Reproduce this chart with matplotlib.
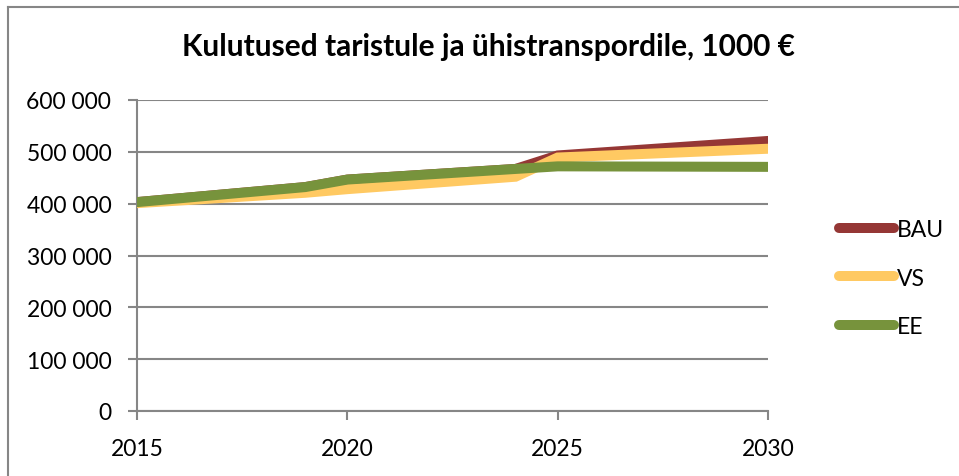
import matplotlib
matplotlib.use("Agg")
import matplotlib.pyplot as plt
from matplotlib.lines import Line2D

years = [2015, 2019, 2020, 2024, 2025, 2030]
bau = [403000, 432000, 446500, 467000, 493000, 521000]
vs = [401000, 421000, 428000, 452000, 489000, 506000]
ee = [403000, 432000, 446500, 467000, 472000, 471000]
series_names = ["BAU", "VS", "EE"]
colors = ["#953735", "#FFC962", "#77933C"]
yticks = [0, 100000, 200000, 300000, 400000, 500000, 600000]
ytick_labels = ["0", "100 000", "200 000", "300 000", "400 000", "500 000", "600 000"]
xticks = [2015, 2020, 2025, 2030]
title = "Kulutused taristule ja ühistranspordile, 1000 €"

plt.rcParams['font.family'] = ['Lato', 'DejaVu Sans']
W, H = 959, 477
fig = plt.figure(figsize=(W / 100, H / 100), dpi=100)
ax = fig.add_axes([137 / W, 1 - 412 / H, (768 - 137) / W, (412 - 101) / H])

grid_c = "#868686"
for name, vals, c in zip(series_names, [bau, vs, ee], colors):
    ax.plot(years, vals, color=c, lw=7.2, solid_capstyle="round",
            solid_joinstyle="miter", label=name, zorder=3)

ax.set_xlim(2015, 2030)
ax.set_ylim(0, 600000)
ax.set_yticks(yticks)
ax.set_yticklabels(ytick_labels)
ax.set_xticks(xticks)
ax.set_xticklabels([str(x) for x in xticks])
ax.tick_params(axis="both", labelsize=16.5, colors=grid_c, labelcolor="black",
               length=6.5, width=1.5, direction="out")
ax.tick_params(axis="y", pad=12)
ax.tick_params(axis="x", pad=13)
ax.grid(axis="y", color=grid_c, lw=1.5, zorder=0)
for s in ["top", "right"]:
    ax.spines[s].set_visible(False)
for s in ["left", "bottom"]:
    ax.spines[s].set_color(grid_c)
    ax.spines[s].set_linewidth(1.5)
ax.set_axisbelow(True)

fig.text(488 / W, 1 - 47 / H, title, ha="center", va="center",
         fontsize=21.5, fontweight="bold")

handles = [Line2D([0], [0], color=c, lw=7.2, solid_capstyle="round") for c in colors]
fig.legend(handles, series_names, loc="center left",
           bbox_to_anchor=(828 / W, 1 - 279 / H), frameon=False,
           fontsize=16.5, handlelength=2.4, handletextpad=0.12,
           labelspacing=1.2, borderpad=0)

# outer frame (top and left edges)
fig.add_artist(Line2D([8 / W, 1], [1 - 8 / H, 1 - 8 / H], color=grid_c, lw=1.5,
                      transform=fig.transFigure))
fig.add_artist(Line2D([8 / W, 8 / W], [0, 1 - 8 / H], color=grid_c, lw=1.5,
                      transform=fig.transFigure))

fig.savefig("out.png", dpi=100)
